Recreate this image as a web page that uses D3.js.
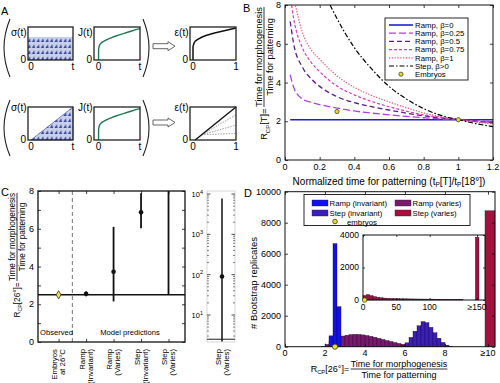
<!DOCTYPE html>
<html><head><meta charset="utf-8">
<script src="https://cdn.jsdelivr.net/npm/d3@7"></script>
<style>body{margin:0;background:#fff}svg{display:block}</style>
</head><body><svg id="c" width="500" height="383"></svg>
<script>
// ---------- DATA ----------
// Panel A (schematic curves, normalized)
const schemT   = [0,0,0.02,0.05,0.1,0.2,0.3,0.4,0.5,0.6,0.7,0.8,0.9,1.0];
const schemJ   = [0,0.32,0.44,0.5,0.55,0.62,0.67,0.72,0.76,0.8,0.84,0.88,0.92,0.95];
const schemEps = [0,0.4,0.5,0.57,0.62,0.69,0.74,0.78,0.82,0.85,0.88,0.91,0.94,0.97];
const sigmaConst = 0.7;
const epsRampEnds = [0.76,0.45,0.2];
// Panel B
const bX       = [0.03,0.05,0.1,0.15,0.2,0.3,0.4,0.5,0.6,0.7,0.8,0.9,1.0,1.1,1.2];
const rampB0   = [2.08,2.08,2.08,2.08,2.08,2.08,2.08,2.08,2.08,2.08,2.08,2.08,2.08,2.08,2.08];
const rampB025 = [4.4,3.75,3.15,2.98,2.86,2.68,2.53,2.42,2.33,2.25,2.18,2.12,2.08,2.03,1.98];
const rampB05  = [7.15,6.0,4.8,4.2,3.8,3.27,2.96,2.75,2.58,2.42,2.28,2.17,2.08,2.0,1.93];
const rampB075 = [8.5,7.3,5.8,5.05,4.56,3.82,3.36,3.02,2.75,2.52,2.33,2.19,2.08,1.98,1.9];
const rampB1   = [null,8.4,6.6,5.7,5.2,4.34,3.75,3.33,3.0,2.7,2.43,2.23,2.08,1.96,1.86];
const stepX    = [0.26,0.3,0.35,0.4,0.5,0.6,0.7,0.8,0.9,1.0,1.1,1.2];
const stepB    = [8.0,7.3,6.5,5.8,4.7,3.8,3.15,2.65,2.3,2.08,1.88,1.72];
const embryoBX = [0.3,1.0];
const embryoBY = [2.5,2.08];
const bXTicks = [0,0.2,0.4,0.6,0.8,1,1.2];
const bYTicks = [0,2,4,6,8];
// Panel C
const cCats = [["Embryos","at 26°C"],["Ramp","(Invariant)"],["Ramp","(Varies)"],["Step","(Invariant)"],["Step","(Varies)"]];
const cMean = [2.5,2.55,3.72,6.87,null];
const cLo   = [2.42,2.42,2.15,6.02,2.5];
const cHi   = [2.58,2.68,6.1,7.88,20];
const cObserved = 2.5;
const cYTicks = [0,2,4,6,8];
const cYMinor = [1,3,5,7];
const cLogCat = ["Step","(Varies)"];
const cLogMean = 90, cLogLo = 2.2, cLogHi = 7800;
const cLogMajor = [10,100,1000,10000];
// Panel D
const dBinW = 0.2;
const rampVarStart = 1.8;
const rampVarCounts = [30,150,350,520,620,690,740,780,800,790,760,720,670,610,540,470,400,340,270,210,160,120,80,50,30,15];
const stepInvStart = 5.8;
const stepInvCounts = [80,250,600,1000,1350,1620,1550,1250,900,550,280,100,30];
const rampInvStart = 2.2;
const rampInvCounts = [700,6650,2580];
const stepVarOverflow = 8770;
const dEmbryo = 2.5;
const dXTicks = [0,2,4,6,8];
const dYTicks = [0,2000,4000,6000,8000,10000];
const insetBinW = 5;
const stepVarInset = [280,330,270,210,170,140,120,105,95,90,85,80,75,70,68,65,62,60,58,56,55,53,52,50,50,48,47,46,45,44];
const insetOverflow = 3860;
const insetXTicks = [0,50,100];
const insetYTicks = [0,2000,4000];

// ---------- HELPERS ----------
const FONT='"Liberation Sans", Arial, Helvetica, sans-serif';
const INK="#000";
const svg=d3.select("#c");
svg.append("rect").attr("width",500).attr("height",383).attr("fill","#fff");
const defs=svg.append("defs");
const labelLayer=svg.append("g").attr("id","labels");
function txt(g,x,y,s,o={}){
  const t=g.append("text").attr("x",x).attr("y",y).attr("font-family",FONT)
    .attr("font-size",o.fs||9).attr("fill",o.fill||INK).attr("text-anchor",o.anchor||"start");
  if(o.rot) t.attr("transform",`rotate(${o.rot},${x},${y})`);
  t.text(s); return t;
}
function boxAxes(g,xs,ys,o){
  const [x0,x1]=xs.range(), [yb,yt]=ys.range(); const L=o.L||3; const fs=o.fs||9;
  const ax=(gen,tr)=>g.append("g").attr("transform",tr).call(gen).call(s=>s.select(".domain").remove());
  const none=()=>"";
  ax(d3.axisBottom(xs).tickValues(o.xt).tickSize(-L).tickFormat(none),`translate(0,${yb})`);
  ax(d3.axisTop(xs).tickValues(o.xt).tickSize(-L).tickFormat(none),`translate(0,${yt})`);
  ax(d3.axisLeft(ys).tickValues(o.yt).tickSize(-L).tickFormat(none),`translate(${x0},0)`);
  ax(d3.axisRight(ys).tickValues(o.yt).tickSize(-L).tickFormat(none),`translate(${x1},0)`);
  if(o.ym){
    ax(d3.axisLeft(ys).tickValues(o.ym).tickSize(-L).tickFormat(none),`translate(${x0},0)`);
    ax(d3.axisRight(ys).tickValues(o.ym).tickSize(-L).tickFormat(none),`translate(${x1},0)`);
  }
  g.append("rect").attr("x",x0).attr("y",yt).attr("width",x1-x0).attr("height",yb-yt)
    .attr("fill","none").attr("stroke","#111").attr("stroke-width",o.sw||1);
  g.selectAll(".tick line").attr("stroke","#111").attr("stroke-width",0.8);
  const xf=o.xf||(d=>String(d)), yf=o.yf||(d=>String(d));
  o.xt.forEach(v=>{const s=xf(v); if(s!=="") txt(labelLayer,xs(v),yb+(o.xp||3)+fs*0.8,s,{fs,anchor:"middle"});});
  o.yt.forEach(v=>{const s=yf(v); if(s!=="") txt(labelLayer,x0-(o.yp||4),ys(v)+fs*0.34,s,{fs,anchor:"end"});});
}
function rcp(t,sub,rest,fs){
  t.append("tspan").text("R");
  t.append("tspan").attr("font-size",fs*0.65).attr("dy",fs*0.25).text(sub);
  t.append("tspan").attr("dy",-fs*0.25).text(rest);
}
function fracLabel(g,cx,cy,pre,num,den,fs,rot){
  const gg=g.append("g").attr("transform",`translate(${cx},${cy})${rot?" rotate(-90)":""}`)
    .attr("font-family",FONT).attr("font-size",fs).attr("fill",INK);
  const n=gg.append("text").attr("x",0).attr("y",-2).attr("text-anchor","middle").text(num);
  const w=n.node().getComputedTextLength();
  gg.append("line").attr("x1",-w/2).attr("x2",w/2).attr("y1",0).attr("y2",0).attr("stroke",INK).attr("stroke-width",0.8);
  gg.append("text").attr("x",0).attr("y",fs*0.95).attr("text-anchor","middle").text(den);
  const r=gg.append("text").attr("x",-w/2-1.5).attr("y",fs*0.35).attr("text-anchor","end");
  rcp(r,pre[0],pre[1],fs);
}

// ---------- PANEL LETTERS ----------
txt(labelLayer,1,15,"A",{fs:11});
txt(labelLayer,243,12,"B",{fs:11});
txt(labelLayer,1,196,"C",{fs:11});
txt(labelLayer,244,197,"D",{fs:11});

// ---------- PANEL A ----------
const gA=svg.append("g");
function cellPattern(id,yOff){
  const p=defs.append("pattern").attr("id",id).attr("patternUnits","userSpaceOnUse")
    .attr("width",4.5).attr("height",6).attr("y",yOff);
  p.append("rect").attr("width",4.5).attr("height",6).attr("fill","#c8cfe8");
  p.append("path").attr("d","M0.4,6 L2.8,2.2 L3.5,6 Z").attr("fill","#34449c");
}
cellPattern("cellsTop",60); cellPattern("cellsBot",140);
const rows=[{top:27,bot:60,lab:36,pat:"cellsTop",ramp:false},{top:107,bot:140,lab:111,pat:"cellsBot",ramp:true}];
rows.forEach(r=>{
  const sy=d3.scaleLinear([0,1],[r.bot,r.top]);
  const sxS=d3.scaleLinear([-0.07,1],[28,73]);
  const sxJ=d3.scaleLinear([-0.11,1],[94,140]);
  const sxE=d3.scaleLinear([-0.07,1],[190,236]);
  if(!r.ramp){
    gA.append("rect").attr("x",sxS(-0.07)).attr("y",sy(sigmaConst)).attr("width",sxS(1)-sxS(-0.07))
      .attr("height",sy(0)-sy(sigmaConst)).attr("fill",`url(#${r.pat})`);
  } else {
    gA.append("path").attr("d",d3.line()([[sxS(0),sy(0)],[sxS(1),sy(1)],[sxS(1),sy(0)]])+"Z")
      .attr("fill",`url(#${r.pat})`).attr("stroke","#34449c").attr("stroke-width",0.6);
  }
  gA.append("path").attr("d",d3.line().x((d,i)=>sxJ(schemT[i])).y(d=>sy(d))(schemJ))
    .attr("fill","none").attr("stroke","#1d7a55").attr("stroke-width",1.4);
  if(!r.ramp){
    gA.append("path").attr("d",d3.line().x((d,i)=>sxE(schemT[i])).y(d=>sy(d))(schemEps))
      .attr("fill","none").attr("stroke","#111").attr("stroke-width",1.5);
  } else {
    epsRampEnds.forEach(e=>gA.append("line").attr("x1",sxE(0.2)).attr("y1",sy(0.16)).attr("x2",sxE(1)).attr("y2",sy(e))
      .attr("stroke","#888").attr("stroke-width",0.8).attr("stroke-dasharray","1.5,1.2"));
    gA.append("line").attr("x1",sxE(0.05)).attr("y1",sy(0)).attr("x2",sxE(1)).attr("y2",sy(1))
      .attr("stroke","#111").attr("stroke-width",1.4);
  }
  [[sxS,"σ(t)","t",-0.07],[sxJ,"J(t)","t",-0.11],[sxE,"ε(t)","1",-0.07]].forEach(([sx,lab,end,lo])=>{
    gA.append("rect").attr("x",sx(lo)).attr("y",r.top).attr("width",sx(1)-sx(lo)).attr("height",r.bot-r.top)
      .attr("fill","none").attr("stroke","#222").attr("stroke-width",1.3);
    txt(gA,sx(lo)-1.5,r.lab,lab,{fs:10,anchor:"end"});
    txt(gA,sx(lo)-2,r.bot+2.5,"0",{fs:10,anchor:"end"});
    txt(gA,sx(0),r.bot+10,"0",{fs:10,anchor:"middle"});
    txt(gA,sx(1),r.bot+10,end,{fs:10,anchor:"middle"});
  });
  const h=r.ramp?[100,156]:[19,77];
  const mid=(h[0]+h[1])/2;
  gA.append("path").attr("d",`M10,${h[0]} Q-2,${mid} 10,${h[1]}`).attr("fill","none").attr("stroke","#222").attr("stroke-width",1.1);
  gA.append("path").attr("d",`M143,${h[0]} Q155,${mid} 143,${h[1]}`).attr("fill","none").attr("stroke","#222").attr("stroke-width",1.1);
  const cy=r.ramp?122.5:46.2;
  gA.append("g").attr("transform",`translate(153,${cy})`).append("path")
    .attr("d","M0,-2.5 L15,-2.5 L15,-4.5 L22,0 L15,4.5 L15,2.5 L0,2.5 Z")
    .attr("fill","#fff").attr("stroke","#555").attr("stroke-width",0.9);
});

// ---------- PANEL B ----------
const xB=d3.scaleLinear([0,1.2],[285,493]), yB=d3.scaleLinear([0,8],[160,5]);
defs.append("clipPath").attr("id","clipB").append("rect").attr("x",285).attr("y",5).attr("width",208).attr("height",155);
const gB=svg.append("g");
const cg=gB.append("g").attr("clip-path","url(#clipB)");
const lineB=d3.line().defined(d=>d[1]!=null).x(d=>xB(d[0])).y(d=>yB(d[1])).curve(d3.curveMonotoneX);
const bSeries=[
  {name:"Ramp, β=0",   x:bX,y:rampB0,  c:"#1e22c8",d:null,     w:1.6},
  {name:"Ramp, β=0.25",x:bX,y:rampB025,c:"#b03ee4",d:"7,3",    w:1.3},
  {name:"Ramp, β=0.5", x:bX,y:rampB05, c:"#5a1c86",d:"5,3",    w:1.3},
  {name:"Ramp, β=0.75",x:bX,y:rampB075,c:"#d43cc0",d:"3,2",    w:1.2},
  {name:"Ramp, β=1",   x:bX,y:rampB1,  c:"#e0506a",d:"1.2,1.6",w:1.2},
  {name:"Step, β>0",   x:stepX,y:stepB,c:"#000",   d:"5,2,1.5,2",w:1.2}
];
bSeries.forEach(s=>cg.append("path").attr("d",lineB(s.x.map((v,i)=>[v,s.y[i]])))
  .attr("fill","none").attr("stroke",s.c).attr("stroke-width",s.w).attr("stroke-dasharray",s.d));
embryoBX.forEach((v,i)=>gB.append("circle").attr("cx",xB(v)).attr("cy",yB(embryoBY[i])).attr("r",2.1)
  .attr("fill","#e6dc20").attr("stroke","#444").attr("stroke-width",0.8));
boxAxes(gB,xB,yB,{xt:bXTicks,yt:bYTicks,xf:d3.format("~g"),fs:9});
const lg=gB.append("g");
lg.append("rect").attr("x",385).attr("y",18).attr("width",83).attr("height",62).attr("fill","#fff").attr("stroke","#111").attr("stroke-width",0.9);
bSeries.forEach((s,i)=>{
  const y=25+i*8.2;
  lg.append("line").attr("x1",389).attr("x2",413).attr("y1",y).attr("y2",y).attr("stroke",s.c).attr("stroke-width",s.w).attr("stroke-dasharray",s.d);
  txt(lg,415,y+2.8,s.name,{fs:7.8});
});
lg.append("circle").attr("cx",401).attr("cy",25+6*8.2).attr("r",2.1).attr("fill","#e6dc20").attr("stroke","#444").attr("stroke-width",0.8);
txt(lg,415,25+6*8.2+2.8,"Embryos",{fs:7.8});
const bx=txt(labelLayer,389,184.5,"",{fs:10,anchor:"middle"});
bx.append("tspan").text("Normalized time for patterning (t");
bx.append("tspan").attr("font-size",6.5).attr("dy",2).text("P");
bx.append("tspan").attr("dy",-2).text("[T]/t");
bx.append("tspan").attr("font-size",6.5).attr("dy",2).text("P");
bx.append("tspan").attr("dy",-2).text("[18°])");
fracLabel(labelLayer,264,57,["CP","[T]="],"Time for morphogenesis","Time for patterning",9.3,true);

// ---------- PANEL C ----------
const xC=d3.scaleLinear([-0.75,4.6],[38,185]), yC=d3.scaleLinear([0,8],[342,191]);
const gC=svg.append("g");
defs.append("clipPath").attr("id","clipC").append("rect").attr("x",38).attr("y",191).attr("width",147).attr("height",151);
const cc=gC.append("g").attr("clip-path","url(#clipC)");
cc.append("line").attr("x1",xC(0.5)).attr("x2",xC(0.5)).attr("y1",191).attr("y2",342)
  .attr("stroke","#555").attr("stroke-width",0.8).attr("stroke-dasharray","4,3");
cc.append("line").attr("x1",38).attr("x2",185).attr("y1",yC(cObserved)).attr("y2",yC(cObserved)).attr("stroke","#111").attr("stroke-width",1.5);
cCats.forEach((c,i)=>{
  cc.append("line").attr("x1",xC(i)).attr("x2",xC(i)).attr("y1",yC(cLo[i])).attr("y2",yC(cHi[i])).attr("stroke","#111").attr("stroke-width",1.8);
});
cMean.forEach((m,i)=>{
  if(m==null) return;
  if(i===0){
    cc.append("path").attr("d",d3.symbol(d3.symbolDiamond,20)()).attr("transform",`translate(${xC(i)},${yC(m)})`)
      .attr("fill","#eee23a").attr("stroke","#333").attr("stroke-width",0.8);
  } else {
    cc.append("circle").attr("cx",xC(i)).attr("cy",yC(m)).attr("r",2.3).attr("fill","#111");
  }
});
boxAxes(gC,xC,yC,{xt:[0,1,2,3,4],yt:cYTicks,ym:cYMinor,xf:()=>"",fs:9,sw:1.3});
txt(labelLayer,40,335,"Observed",{fs:7.6});
txt(labelLayer,130,335,"Model predictions",{fs:7.6,anchor:"middle"});
cCats.forEach((c,i)=>{
  const t=labelLayer.append("text").attr("transform",`translate(${xC(i)-1.5},349) rotate(-90)`)
    .attr("text-anchor","end").attr("font-family",FONT).attr("font-size",7.8).attr("fill",INK);
  t.append("tspan").attr("x",0).attr("y",0).text(c[0]);
  t.append("tspan").attr("x",0).attr("y",8).text(c[1]);
});
fracLabel(labelLayer,17,237,["CP","[26°]="],"Time for morphogenesis","Time for patterning",8.2,true);
const yL=d3.scaleLog([2.14,11900],[342,191]);
const xL0=207, xL1=235, xLc=222;
const gL=gC.append("g");
gL.append("rect").attr("x",xL0).attr("y",191).attr("width",xL1-xL0).attr("height",151).attr("fill","none").attr("stroke","#bbb").attr("stroke-width",0.6);
const minor=[];
[1,10,100,1000].forEach(dec=>d3.range(2,10).forEach(k=>{const v=k*dec; if(v>=2.14&&v<=11900) minor.push(v);}));
[xL0,xL1].forEach((x,side)=>{
  const dir=side?-1:1;
  minor.forEach(v=>gL.append("line").attr("x1",x).attr("x2",x+dir*2).attr("y1",yL(v)).attr("y2",yL(v)).attr("stroke","#333").attr("stroke-width",0.6));
  cLogMajor.forEach(v=>gL.append("line").attr("x1",x).attr("x2",x+dir*3.5).attr("y1",yL(v)).attr("y2",yL(v)).attr("stroke","#222").attr("stroke-width",0.8));
});
cLogMajor.forEach((v,i)=>{
  const t=txt(labelLayer,xL0-4,yL(v)+3,"10",{fs:7.5,anchor:"end"});
  t.append("tspan").attr("font-size",5.5).attr("dy",-3.5).text(String(i+1));
});
gL.append("line").attr("x1",xL0).attr("x2",xL1).attr("y1",yL(cObserved)).attr("y2",yL(cObserved)).attr("stroke","#444").attr("stroke-width",1.2);
gL.append("line").attr("x1",xLc).attr("x2",xLc).attr("y1",yL(cLogHi)).attr("y2",Math.min(342,yL(cLogLo))).attr("stroke","#111").attr("stroke-width",1.5);
gL.append("circle").attr("cx",xLc).attr("cy",yL(cLogMean)).attr("r",2.3).attr("fill","#111");
{
  const t=labelLayer.append("text").attr("transform",`translate(${xLc-1.5},349) rotate(-90)`)
    .attr("text-anchor","end").attr("font-family",FONT).attr("font-size",7.8).attr("fill",INK);
  t.append("tspan").attr("x",0).attr("y",0).text(cLogCat[0]);
  t.append("tspan").attr("x",0).attr("y",8).text(cLogCat[1]);
}

// ---------- PANEL D ----------
const xD=d3.scaleLinear([0,10.5],[285,495]), yD=d3.scaleLinear([0,10000],[346.7,191.7]);
const gD=svg.append("g");
const colRampInv="#1010f0", colStepInv="#3b1fb8", colRampVar="#7a1a6e", colStepVar="#a3123e";
function bars(g,xs,ys,start,w,counts,color){
  g.append("g").selectAll("rect").data(counts.map((c,i)=>({x0:start+i*w,c}))).join("rect")
    .attr("x",d=>xs(d.x0)).attr("width",d=>xs(d.x0+w)-xs(d.x0))
    .attr("y",d=>ys(d.c)).attr("height",d=>ys(0)-ys(d.c))
    .attr("fill",color).attr("stroke","#1a0820").attr("stroke-width",0.35);
}
bars(gD,xD,yD,rampVarStart,dBinW,rampVarCounts,colRampVar);
bars(gD,xD,yD,stepInvStart,dBinW,stepInvCounts,colStepInv);
bars(gD,xD,yD,rampInvStart,dBinW,rampInvCounts,colRampInv);
bars(gD,xD,yD,10,0.5,[stepVarOverflow],colStepVar);
boxAxes(gD,xD,yD,{xt:[...dXTicks,10.15],yt:dYTicks,xf:d=>d>9?"≥10":String(d),fs:9,xp:2});
gD.append("circle").attr("cx",xD(dEmbryo)).attr("cy",yD(0)).attr("r",2.6).attr("fill","#ece21c").attr("stroke","#333").attr("stroke-width",0.8);
const xI=d3.scaleLinear([0,183],[363,485]), yI=d3.scaleLinear([0,4000],[300,235]);
const gI=gD.append("g");
gI.append("rect").attr("x",363).attr("y",235).attr("width",122).attr("height",65).attr("fill","#fff");
bars(gI,xI,yI,0,insetBinW,stepVarInset,colStepVar);
bars(gI,xI,yI,168.5,5.5,[insetOverflow],colStepVar);
boxAxes(gI,xI,yI,{xt:[...insetXTicks,171],yt:insetYTicks,xf:d=>d>150?"≥150":String(d),fs:8.5,L:2});
gI.append("circle").attr("cx",xI(dEmbryo)).attr("cy",yI(0)).attr("r",2.3).attr("fill","#ece21c").attr("stroke","#333").attr("stroke-width",0.7);
const lD=gD.append("g");
lD.append("rect").attr("x",304).attr("y",194.5).attr("width",166).attr("height",31).attr("fill","#fff").attr("stroke","#111").attr("stroke-width",0.9);
[[colRampInv,"Ramp (invariant)",312,203],[colRampVar,"Ramp (varies)",395,203],[colStepInv,"Step (invariant)",312,213],[colStepVar,"Step (varies)",395,213]]
.forEach(([c,n,x,y])=>{
  lD.append("rect").attr("x",x).attr("y",y-3).attr("width",16).attr("height",6).attr("fill",c).attr("stroke","#222").attr("stroke-width",0.4);
  txt(lD,x+17.5,y+3,n,{fs:7.8});
});
lD.append("circle").attr("cx",335).attr("cy",221.5).attr("r",2.3).attr("fill","#ece21c").attr("stroke","#333").attr("stroke-width",0.8);
txt(lD,347,224.5,"embryos",{fs:7.8});
txt(labelLayer,257,283,"# Bootstrap replicates",{fs:9.5,anchor:"middle",rot:-90});
fracLabel(labelLayer,399,369,["CP","[26°]="],"Time for morphogenesis","Time for patterning",9,false);

labelLayer.raise();
</script></body></html>
